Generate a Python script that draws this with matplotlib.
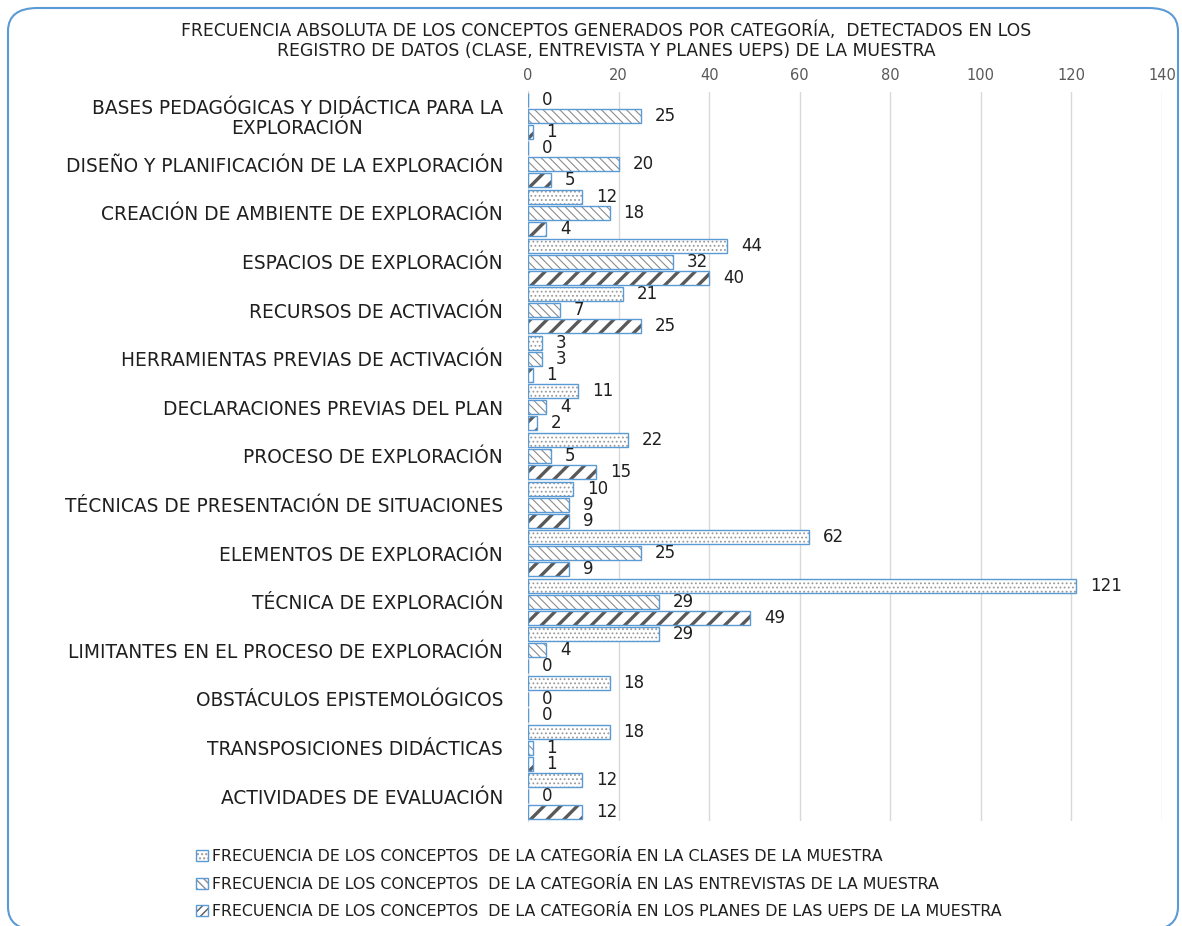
import matplotlib
matplotlib.use("Agg")
import matplotlib.pyplot as plt
import numpy as np
from matplotlib.patches import FancyBboxPatch, Patch
from matplotlib.legend_handler import HandlerTuple

plt.rcParams['font.family'] = ['DejaVu Sans']

categories = [
    "BASES PEDAGÓGICAS Y DIDÁCTICA PARA LA\nEXPLORACIÓN",
    "DISEÑO Y PLANIFICACIÓN DE LA EXPLORACIÓN",
    "CREACIÓN DE AMBIENTE DE EXPLORACIÓN",
    "ESPACIOS DE EXPLORACIÓN",
    "RECURSOS DE ACTIVACIÓN",
    "HERRAMIENTAS PREVIAS DE ACTIVACIÓN",
    "DECLARACIONES PREVIAS DEL PLAN",
    "PROCESO DE EXPLORACIÓN",
    "TÉCNICAS DE PRESENTACIÓN DE SITUACIONES",
    "ELEMENTOS DE EXPLORACIÓN",
    "TÉCNICA DE EXPLORACIÓN",
    "LIMITANTES EN EL PROCESO DE EXPLORACIÓN",
    "OBSTÁCULOS EPISTEMOLÓGICOS",
    "TRANSPOSICIONES DIDÁCTICAS",
    "ACTIVIDADES DE EVALUACIÓN",
]
clases = [0, 0, 12, 44, 21, 3, 11, 22, 10, 62, 121, 29, 18, 18, 12]
entrevistas = [25, 20, 18, 32, 7, 3, 4, 5, 9, 25, 29, 4, 0, 1, 0]
planes = [1, 5, 4, 40, 25, 1, 2, 15, 9, 9, 49, 0, 0, 1, 12]

series_labels = [
    "FRECUENCIA DE LOS CONCEPTOS  DE LA CATEGORÍA EN LA CLASES DE LA MUESTRA",
    "FRECUENCIA DE LOS CONCEPTOS  DE LA CATEGORÍA EN LAS ENTREVISTAS DE LA MUESTRA",
    "FRECUENCIA DE LOS CONCEPTOS  DE LA CATEGORÍA EN LOS PLANES DE LAS UEPS DE LA MUESTRA",
]
title = ("FRECUENCIA ABSOLUTA DE LOS CONCEPTOS GENERADOS POR CATEGORÍA,  DETECTADOS EN LOS\n"
         "REGISTRO DE DATOS (CLASE, ENTREVISTA Y PLANES UEPS) DE LA MUESTRA")
x_ticks = [0, 20, 40, 60, 80, 100, 120, 140]

EDGE = "#5B9BD5"
TEXT = "#1f1f1f"
styles = [
    dict(hatch="....", color="#9a9a9a", lw=0.8),
    dict(hatch="\\\\\\\\", color="#8c8c8c", lw=0.8),
    dict(hatch="//", color="#595959", lw=2.4),
]

fig = plt.figure(figsize=(11.82, 9.26), dpi=100)
W, H = 1182, 926

# rounded chart frame
frame = FancyBboxPatch((8 / W, -4 / H), 1170 / W, (H - 8 + 4) / H,
                       boxstyle="round,pad=0,rounding_size=0.025",
                       transform=fig.transFigure, facecolor="white",
                       edgecolor=EDGE, linewidth=1.5, zorder=-5)
fig.patches.append(frame)

ax = fig.add_axes([528 / W, 1 - 820.5 / H, (1162 - 528) / W, (820.5 - 91.5) / H])
ax.set_facecolor("none")

y = np.arange(len(categories))
step = 0.33
height = 0.29
for k, (vals, st) in enumerate(zip([clases, entrevistas, planes], styles)):
    pos = y + (k - 1) * step
    with plt.rc_context({'hatch.linewidth': st["lw"], 'hatch.color': st["color"]}):
        ax.barh(pos, vals, height=height, color="white", edgecolor=st["color"],
                hatch=st["hatch"], linewidth=0, zorder=2)
    ax.barh(pos, vals, height=height, color="none", edgecolor=EDGE,
            linewidth=1.0, zorder=3)
    for v, p in zip(vals, pos):
        ax.annotate(str(v), (v, p), xytext=(10, 0), textcoords="offset points",
                    ha="left", va="center", fontsize=12, color=TEXT)

ax.set_ylim(len(categories) - 0.5, -0.5)
ax.set_xlim(0, 140)
ax.set_yticks(y)
ax.set_yticklabels(categories, fontsize=13.4, color=TEXT, multialignment="center",
                   linespacing=1.1)
ax.tick_params(axis="y", length=0, pad=18)
ax.xaxis.tick_top()
ax.set_xticks(x_ticks)
ax.set_xticklabels([str(t) for t in x_ticks], fontsize=10.5, color="#595959")
ax.tick_params(axis="x", length=0, pad=6)
ax.grid(axis="x", color="#D9D9D9", linewidth=1.0, zorder=0)
for s in ["top", "right", "bottom"]:
    ax.spines[s].set_visible(False)
ax.spines["left"].set_color("#D9D9D9")
ax.set_axisbelow(True)

fig.text(606 / W, 1 - 41 / H, title, ha="center", va="center", fontsize=12.4,
         color=TEXT, linespacing=1.12)

# legend keys: hatched square under a blue outline
handles = []
for st in styles:
    with plt.rc_context({'hatch.linewidth': min(st["lw"], 1.6), 'hatch.color': st["color"]}):
        hp = Patch(facecolor="white", edgecolor=st["color"],
                   hatch=st["hatch"] * 2 if st["hatch"] == "//" else st["hatch"],
                   linewidth=0)
    op = Patch(facecolor="none", edgecolor=EDGE, linewidth=1.0)
    handles.append((hp, op))

fig.legend(handles, series_labels, loc="upper left",
           bbox_to_anchor=(196 / W, 1 - 849 / H), frameon=False,
           fontsize=11.4, handlelength=0.75, handleheight=0.7, handletextpad=0.25,
           labelspacing=0.8, borderpad=0, borderaxespad=0,
           handler_map={tuple: HandlerTuple(ndivide=1)}, labelcolor=TEXT)

fig.savefig("out.png", dpi=100)
